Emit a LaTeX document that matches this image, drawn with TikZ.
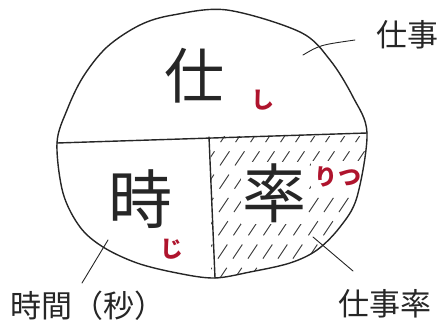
\documentclass[tikz,border=0pt]{standalone}
\usepackage{fontspec}
\newfontfamily\jp{Noto Sans CJK JP}
\tikzset{
  ink/.style={line width=1.4pt, line cap=round, line join=round, black!85},
  leader/.style={line width=0.9pt, line cap=round, black!85},
  hatch/.style={line width=0.9pt, black!80, dash pattern=on 17pt off 11pt},
  big/.style={font=\jp\fontsize{60}{60}\selectfont, text=black!85, inner sep=1pt},
  redl/.style={font=\jp\bfseries\fontsize{23}{23}\selectfont, text={rgb,255:red,175;green,20;blue,45}, inner sep=1pt},
  lab/.style={font=\jp\fontsize{31}{31}\selectfont, text=black!85, inner sep=1pt},
}
\begin{document}
\begin{tikzpicture}[x=1pt,y=-1pt]
\useasboundingbox (0,0) rectangle (443,327);
\coordinate (L) at (57,143);
\coordinate (R) at (367,133);
\coordinate (T) at (209,137);
\coordinate (B) at (215,278);
\def\blob{plot[smooth cycle, tension=0.55] coordinates {(227,10) (300,32) (330,60) (353,97) (367,133) (357,197) (340,227) (317,250) (290,263) (250,272) (214,278) (177,273) (137,263) (103,247) (80,227) (63,193) (57,143) (67,110) (83,77) (107,47) (140,25) (173,15)}}
% hatching
\begin{scope}
  \clip \blob;
  \clip (211,136) rectangle (400,300);
  \foreach \i in {0,15,...,300} {
    \draw[hatch] (200+\i,128) -- (200+\i-120,308);
  }
\end{scope}
% text nodes with white background to keep gaps
\node[big, fill=white, font=\jp\fontsize{64}{64}\selectfont] (ritsu) at (274,193) {率};
\node[redl, fill=white, inner xsep=4pt, inner ysep=6pt] (ritsur) at (338,177) {りつ};
% outline
\draw[ink] \blob;
\draw[ink] (L) -- (R);
\draw[ink] (T) -- (B);
% labels
\node[big] (shi) at (194,76) {仕};
\node[redl] (shir) at (263,100) {し};
\node[big, font=\jp\fontsize{64}{64}\selectfont] (ji) at (140,199) {時};
\node[redl] (jir) at (172,249) {じ};
\node[lab] (shigoto) at (407,35) {仕事};
\node[lab] (jikan) at (88,306) {時間（秒）};
\node[lab] (shigotoritsu) at (385,304) {仕事率};
% leaders
\coordinate (a1) at (303,55);
\coordinate (a2) at (355,40);
\draw[leader] (a1) .. controls (320,45) .. (a2);
\coordinate (b1) at (108,240);
\coordinate (b2) at (82,283);
\draw[leader] (b1) -- (b2);
\coordinate (c1) at (313,237);
\coordinate (c2) at (353,271);
\draw[leader] (c1) -- (c2);
\end{tikzpicture}
\end{document}
